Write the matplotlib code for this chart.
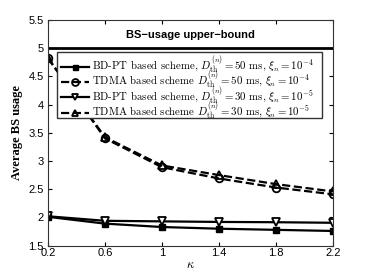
import numpy as np
import matplotlib.pyplot as plt
from matplotlib.patches import Rectangle

# data
kappa = [0.2, 0.6, 1.0, 1.4, 1.8, 2.2]
bdpt_50 = [2.01, 1.89, 1.83, 1.80, 1.78, 1.76]
tdma_50 = [4.82, 3.40, 2.89, 2.69, 2.53, 2.41]
bdpt_30 = [2.02, 1.94, 1.93, 1.92, 1.915, 1.905]
tdma_30 = [4.82, 3.42, 2.92, 2.75, 2.59, 2.46]
upper_bound = 5.0

labels = [
    r'BD-PT based scheme, $D_{\mathrm{th}}^{(n)}=50$ ms, $\xi_n=10^{-4}$',
    r'TDMA based scheme $D_{\mathrm{th}}^{(n)}=50$ ms, $\xi_n=10^{-4}$',
    r'BD-PT based scheme, $D_{\mathrm{th}}^{(n)}=30$ ms, $\xi_n=10^{-5}$',
    r'TDMA based scheme $D_{\mathrm{th}}^{(n)}=30$ ms, $\xi_n=10^{-5}$',
]
xticks = [0.2, 0.6, 1, 1.4, 1.8, 2.2]
yticks = [1.5, 2, 2.5, 3, 3.5, 4, 4.5, 5, 5.5]

plt.rcParams['mathtext.fontset'] = 'cm'

fig = plt.figure(figsize=(3.67, 2.76), dpi=100)
ax = fig.add_axes([0.131, 0.110, 0.776, 0.818])

lw = 1.6
ax.plot(kappa, bdpt_50, '-', color='k', lw=lw, marker='s', ms=4, mfc='k', mec='k', label=labels[0])
ax.plot(kappa, tdma_50, '--', color='k', lw=lw, marker='o', ms=5.5, mfc='none', mec='k', mew=1.3, label=labels[1])
ax.plot(kappa, bdpt_30, '-', color='k', lw=lw, marker='v', ms=5.5, mfc='white', mec='k', mew=1.3, label=labels[2])
ax.plot(kappa, tdma_30, '--', color='k', lw=lw, marker='^', ms=5.5, mfc='none', mec='k', mew=1.3, label=labels[3])

ax.axhline(upper_bound, color='k', lw=2)
ax.text(1.2, 5.24, 'BS\u2212usage upper\u2212bound', ha='center', va='center',
        fontsize=8, fontweight='bold', family='Liberation Sans')

ax.set_xlim(0.2, 2.2)
ax.set_ylim(1.5, 5.5)
ax.set_xticks(xticks)
ax.set_xticklabels([f'{t:g}' for t in xticks])
ax.set_yticks(yticks)
ax.set_yticklabels([f'{t:g}' for t in yticks])
ax.tick_params(direction='in', top=True, right=True, length=3, labelsize=8)
ax.tick_params(axis='x', pad=2)
ax.tick_params(axis='y', pad=3)
for lab in ax.get_xticklabels() + ax.get_yticklabels():
    lab.set_family('Liberation Sans')
for sp in ax.spines.values():
    sp.set_linewidth(0.8)
    sp.set_color('#333333')

ax.set_xlabel(r'$\kappa$', fontsize=9, labelpad=0)
ax.set_ylabel('Average BS usage', fontsize=9, fontweight='bold', family='Liberation Serif', labelpad=4)

# legend box drawn separately so the rows can sit tightly like the original
box = Rectangle((0.032, 0.566), 0.929, 0.292, transform=ax.transAxes,
                facecolor='white', edgecolor='#333333', lw=1.0, zorder=4.5)
ax.add_patch(box)
leg = ax.legend(loc='upper left', bbox_to_anchor=(0.032, 0.863), borderaxespad=0,
                prop={'family': 'cmr10', 'size': 7.8}, handlelength=2.6,
                handletextpad=0.3, labelspacing=-0.54, borderpad=0.35,
                frameon=False, markerscale=0.9)

fig.savefig('out.png', dpi=100)
